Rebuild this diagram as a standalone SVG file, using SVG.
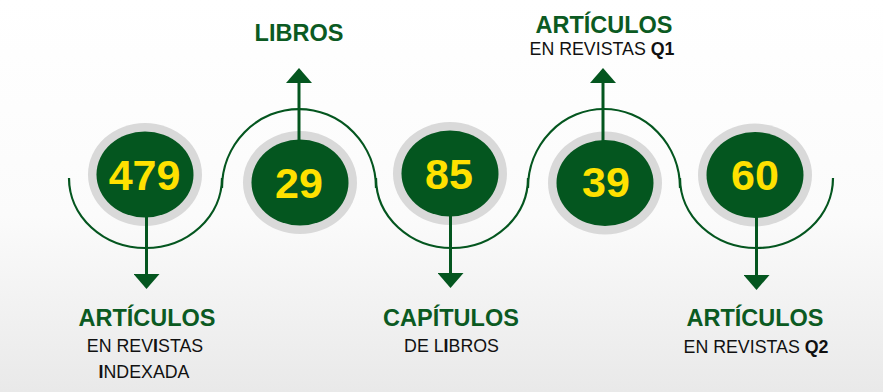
<svg xmlns="http://www.w3.org/2000/svg" width="883" height="392" viewBox="0 0 883 392">
<defs>
<linearGradient id="bg" x1="0" y1="0" x2="0" y2="1">
<stop offset="0" stop-color="#ffffff"/>
<stop offset="0.55" stop-color="#fbfbfb"/>
<stop offset="1" stop-color="#e9e9e9"/>
</linearGradient>
<marker id="ah" viewBox="0 0 15 26" refX="0" refY="13" markerWidth="15" markerHeight="26" markerUnits="userSpaceOnUse" orient="auto">
<path d="M0,0 L15,13 L0,26 Z" fill="#04561f"/>
</marker>
</defs>
<style>
.ring{fill:#d9d9d9}
.disc{fill:#04561f}
.num{font-family:"Liberation Sans",Arial,sans-serif;font-weight:bold;font-size:43px;fill:#ffe100;text-anchor:middle}
.ttl{font-family:"Liberation Sans",Arial,sans-serif;font-weight:bold;font-size:23.5px;fill:#0b5a22;text-anchor:middle}
.sub{font-family:"Liberation Sans",Arial,sans-serif;font-size:17.8px;fill:#111111;text-anchor:middle}
.b{font-weight:bold}
.wave{fill:none;stroke:#04561f;stroke-width:2.2}
.shaft{stroke:#04561f;stroke-width:3;fill:none}
</style>
<rect x="0" y="0" width="883" height="392" fill="url(#bg)"/>

<g id="connectors">
<path class="wave" d="M69,178 A76.5,70 0 0 0 222,178 L222,188 A77,79 0 0 1 376,188 L376,178 A76,70 0 0 0 528,178 L528,188 A76,79 0 0 1 680,188 L680,178 A76.5,70 0 0 0 833,178"/>
</g>

<g id="node-479">
<ellipse class="ring" cx="145" cy="174.5" rx="57" ry="51.5"/>
<ellipse class="disc" cx="145" cy="174.5" rx="48.5" ry="43"/>
<text class="num" x="144.5" y="189.5">479</text>
</g>
<g id="node-29">
<ellipse class="ring" cx="300" cy="182.5" rx="57" ry="51.5"/>
<ellipse class="disc" cx="300" cy="182.5" rx="48.5" ry="43"/>
<text class="num" x="299" y="197.5">29</text>
</g>
<g id="node-85">
<ellipse class="ring" cx="450" cy="173.5" rx="57" ry="51.5"/>
<ellipse class="disc" cx="450" cy="173.5" rx="48.5" ry="43"/>
<text class="num" x="449" y="188.5">85</text>
</g>
<g id="node-39">
<ellipse class="ring" cx="605" cy="183" rx="57" ry="51.5"/>
<ellipse class="disc" cx="605" cy="183" rx="48.5" ry="43"/>
<text class="num" x="606" y="197">39</text>
</g>
<g id="node-60">
<ellipse class="ring" cx="755" cy="175" rx="57" ry="51.5"/>
<ellipse class="disc" cx="755" cy="175" rx="48.5" ry="43"/>
<text class="num" x="755" y="189.5">60</text>
</g>

<g id="arrows">
<line class="shaft" x1="146.5" y1="210" x2="146.5" y2="274" marker-end="url(#ah)"/>
<line class="shaft" x1="299" y1="150" x2="299" y2="83" marker-end="url(#ah)"/>
<line class="shaft" x1="450.5" y1="210" x2="450.5" y2="273" marker-end="url(#ah)"/>
<line class="shaft" x1="603" y1="150" x2="603" y2="83" marker-end="url(#ah)"/>
<line class="shaft" x1="756.5" y1="210" x2="756.5" y2="275" marker-end="url(#ah)"/>
</g>

<g id="label-479">
<text class="ttl" x="147" y="326">ARTÍCULOS</text>
<text class="sub" x="145" y="352">EN REV<tspan class="b">I</tspan>STAS</text>
<text class="sub" x="144" y="378"><tspan class="b">I</tspan>NDEXADA</text>
</g>
<g id="label-29">
<text class="ttl" x="299" y="41">LIBROS</text>
</g>
<g id="label-85">
<text class="ttl" x="451" y="326">CAPÍTULOS</text>
<text class="sub" x="451.5" y="352">DE L<tspan class="b">I</tspan>BROS</text>
</g>
<g id="label-39">
<text class="ttl" x="604" y="33">ARTÍCULOS</text>
<text class="sub" x="602" y="55">EN REVISTAS <tspan class="b">Q1</tspan></text>
</g>
<g id="label-60">
<text class="ttl" x="755" y="326">ARTÍCULOS</text>
<text class="sub" x="756" y="352.5">EN REVISTAS <tspan class="b">Q2</tspan></text>
</g>
</svg>
